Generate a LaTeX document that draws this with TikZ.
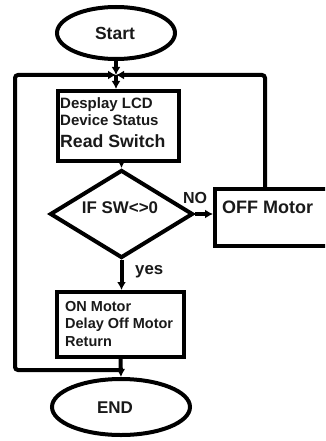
\documentclass[tikz,border=0pt]{standalone}
\usepackage{fontspec}
\setmainfont{Liberation Sans}
\usetikzlibrary{shapes.geometric,arrows.meta}
\begin{document}
\begin{tikzpicture}[x=1pt,y=-1pt,
  ln/.style={line width=4pt,draw=black},
  arr/.style={ln,-{Latex[length=8pt,width=9pt]},rounded corners=3pt},
  term/.style={ln,ellipse,inner sep=0pt},
  boxnode/.style={ln,rectangle,inner sep=0pt},
  dec/.style={ln,diamond,inner sep=0pt},
  txt/.style={inner sep=0pt,anchor=base west,font=\bfseries,text=black!90},
  ctxt/.style={inner sep=0pt,anchor=base,font=\bfseries,text=black!90}]
\useasboundingbox (0,0) rectangle (325,441);
\begin{scope}
\clip (0,0) rectangle (325,441);
% terminals
\node[term,minimum width=118pt,minimum height=52pt] (start) at (116,33) {};
\node[term,minimum width=138pt,minimum height=56pt] (end) at (121,407) {};
% boxes
\node[boxnode,minimum width=121pt,minimum height=70pt] (box1) at (118,126) {};
\node[boxnode,minimum width=127pt,minimum height=65pt] (box3) at (120.5,324.5) {};
\node[boxnode,minimum width=130pt,minimum height=57pt] (off) at (280,217.5) {};
% decision
\node[dec,minimum width=143pt,minimum height=88pt] (dec) at (121.5,214) {};
% junction coordinates
\coordinate (j1) at (116,75);
\coordinate (jl) at (15,75);
\coordinate (jr) at (265,75);
\coordinate (jb) at (120.5,370);
\coordinate (offtop) at (265,189);
% connectors
\draw[arr] (start.south) -- (j1);
\draw[arr] (j1) -- (box1.north -| j1);
\draw[arr] (jb) -| (jl) -- (j1);
\draw[arr] (offtop) |- (j1);
\draw[arr] (box1.south -| dec.north) -- (dec.north);
\draw[arr] (dec.east) -- (dec.east -| off.west);
\draw[arr] (dec.south) -- (box3.north -| dec.south);
\draw[arr] (box3.south) -- (end.north);
% texts
\node[ctxt,font=\bfseries\fontsize{17.5}{20}\selectfont] (tstart) at (115,40) {Start};
\node[ctxt,font=\bfseries\fontsize{17}{20}\selectfont] (tend) at (115,413) {END};
\node[txt,font=\bfseries\fontsize{15}{18}\selectfont] (t11) at (60,108) {Desplay LCD};
\node[txt,font=\bfseries\fontsize{15}{18}\selectfont] (t12) at (60,125) {Device Status};
\node[txt,font=\bfseries\fontsize{17.7}{20}\selectfont] (t13) at (60,147) {Read Switch};
\node[ctxt,font=\bfseries\fontsize{16.9}{20}\selectfont] (tdec) at (120,213) {IF SW<>0};
\node[ctxt,font=\bfseries\fontsize{16}{20}\selectfont] (tno) at (195,203) {NO};
\node[txt,font=\bfseries\fontsize{18}{20}\selectfont] (toff) at (222,213) {OFF Motor};
\node[txt,font=\bfseries\fontsize{16.8}{20}\selectfont] (tyes) at (135,274) {yes};
\node[txt,font=\bfseries\fontsize{14.5}{18}\selectfont] (t31) at (65,311) {ON Motor};
\node[txt,font=\bfseries\fontsize{14.5}{18}\selectfont] (t32) at (65,328) {Delay Off Motor};
\node[txt,font=\bfseries\fontsize{14.5}{18}\selectfont] (t33) at (65,346) {Return};
\end{scope}
\end{tikzpicture}
\end{document}
